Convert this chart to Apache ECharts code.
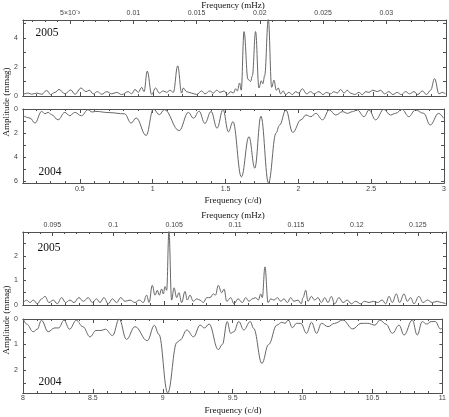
<!DOCTYPE html>
<html><head><meta charset="utf-8">
<script src="https://cdn.jsdelivr.net/npm/echarts@6/dist/echarts.min.js"></script>
<style>html,body{margin:0;padding:0;background:#fff}#c{width:449px;height:417px}</style>
</head><body><div id="c"></div>
<script>
// ---- data: [frequency (c/d), amplitude (mmag)] ----
const a2005 = [[0.112,0.12],[0.146,0.2],[0.169,0.12],[0.204,0.2],[0.238,0.12],[0.272,0.38],[0.299,0.1],[0.329,0.25],[0.356,0.45],[0.397,0.15],[0.436,0.42],[0.465,0.12],[0.506,0.55],[0.54,0.3],[0.563,0.4],[0.59,0.15],[0.618,0.3],[0.648,0.12],[0.682,0.3],[0.716,0.15],[0.75,0.25],[0.784,0.1],[0.829,0.3],[0.852,0.15],[0.875,0.45],[0.898,0.25],[0.921,0.6],[0.937,0.3],[0.959,1.72],[0.989,0.1],[1.016,0.55],[1.041,0.2],[1.068,0.35],[1.092,0.25],[1.114,0.4],[1.137,0.25],[1.167,2.08],[1.194,0.2],[1.205,0.55],[1.228,0.3],[1.262,0.2],[1.296,0.1],[1.331,0.35],[1.353,0.15],[1.387,0.35],[1.41,0.2],[1.433,0.4],[1.456,0.25],[1.483,0.35],[1.506,0.1],[1.529,0.3],[1.547,0.2],[1.563,0.5],[1.574,0.35],[1.59,0.9],[1.601,0.4],[1.62,4.45],[1.647,1.15],[1.665,1.0],[1.677,1.4],[1.699,4.45],[1.722,0.55],[1.738,1.05],[1.749,0.85],[1.761,1.4],[1.786,5.3],[1.809,0.6],[1.825,1.1],[1.84,0.4],[1.854,0.55],[1.87,0.15],[1.888,0.35],[1.904,0.1],[1.927,0.25],[1.95,0.1],[1.973,0.3],[1.995,0.2],[2.018,0.5],[2.048,0.15],[2.075,0.3],[2.098,0.15],[2.132,0.3],[2.159,0.1],[2.184,0.25],[2.212,0.15],[2.234,0.3],[2.257,0.2],[2.28,0.45],[2.303,0.2],[2.325,0.4],[2.348,0.2],[2.376,0.1],[2.405,0.25],[2.428,0.1],[2.451,0.3],[2.473,0.25],[2.501,0.4],[2.53,0.3],[2.553,0.4],[2.58,0.15],[2.61,0.3],[2.637,0.1],[2.667,0.25],[2.694,0.1],[2.724,0.3],[2.751,0.15],[2.781,0.3],[2.808,0.1],[2.838,0.35],[2.867,0.1],[2.895,0.4],[2.922,1.2],[2.952,0.15],[2.974,0.25],[2.997,0.15]];
const a2004 = [[0.112,0.56],[0.158,0.75],[0.192,1.17],[0.238,0.2],[0.26,0.39],[0.283,0.28],[0.306,0.47],[0.351,0.9],[0.397,0.28],[0.431,0.56],[0.465,0.28],[0.511,0.56],[0.556,0.06],[0.585,0.25],[0.61,0.2],[0.7,0.3],[0.807,0.4],[0.852,1.17],[0.887,0.75],[0.955,2.2],[1.005,0.0],[1.046,0.47],[1.08,0.05],[1.182,1.8],[1.245,0.28],[1.28,0.77],[1.319,0.18],[1.358,1.2],[1.401,0.2],[1.442,1.6],[1.483,0.05],[1.52,1.9],[1.551,1.05],[1.609,5.65],[1.661,2.3],[1.701,4.92],[1.743,0.6],[1.795,6.15],[1.847,2.0],[1.87,1.35],[1.915,0.08],[1.961,1.95],[2.018,0.9],[2.052,0.5],[2.086,0.64],[2.12,0.36],[2.166,0.9],[2.212,0.08],[2.257,0.5],[2.303,0.22],[2.337,0.36],[2.371,0.22],[2.405,0.08],[2.451,0.64],[2.485,0.08],[2.53,0.9],[2.587,0.03],[2.632,0.5],[2.667,0.36],[2.712,0.03],[2.758,0.64],[2.803,0.08],[2.86,0.36],[2.905,1.33],[2.963,0.36],[2.997,0.78]];
const b2005 = [[8.002,0.1],[8.026,0.2],[8.05,0.1],[8.073,0.2],[8.102,0.05],[8.132,0.25],[8.156,0.35],[8.184,0.1],[8.215,0.2],[8.243,0.05],[8.274,0.3],[8.302,0.1],[8.333,0.2],[8.362,0.1],[8.397,0.3],[8.428,0.15],[8.463,0.3],[8.492,0.1],[8.522,0.25],[8.546,0.1],[8.574,0.3],[8.605,0.05],[8.634,0.25],[8.664,0.1],[8.693,0.3],[8.723,0.15],[8.759,0.2],[8.794,0.1],[8.825,0.2],[8.853,0.1],[8.877,0.4],[8.894,0.1],[8.917,0.8],[8.936,0.4],[8.953,0.6],[8.967,0.4],[8.983,0.65],[8.995,0.45],[9.007,0.75],[9.019,0.6],[9.035,3.0],[9.054,0.2],[9.071,0.7],[9.09,0.3],[9.106,0.5],[9.125,0.1],[9.149,0.55],[9.165,0.2],[9.184,0.4],[9.208,0.15],[9.232,0.25],[9.255,0.2],[9.279,0.1],[9.303,0.3],[9.326,0.3],[9.35,0.45],[9.365,0.4],[9.385,0.8],[9.409,0.5],[9.426,0.65],[9.445,0.15],[9.473,0.3],[9.496,0.05],[9.525,0.25],[9.556,0.1],[9.579,0.3],[9.603,0.15],[9.626,0.25],[9.65,0.3],[9.669,0.2],[9.686,0.45],[9.697,0.3],[9.716,1.55],[9.738,0.1],[9.757,0.25],[9.78,0.2],[9.804,0.3],[9.828,0.15],[9.851,0.25],[9.875,0.1],[9.898,0.3],[9.922,0.15],[9.95,0.2],[9.974,0.05],[9.986,0.3],[10.005,0.6],[10.021,0.15],[10.045,0.35],[10.069,0.2],[10.092,0.3],[10.116,0.1],[10.14,0.3],[10.163,0.1],[10.187,0.35],[10.21,0.05],[10.241,0.3],[10.27,0.1],[10.3,0.2],[10.329,0.05],[10.359,0.15],[10.395,0.05],[10.423,0.15],[10.454,0.1],[10.485,0.15],[10.513,0.1],[10.548,0.2],[10.572,0.05],[10.596,0.35],[10.619,0.1],[10.648,0.45],[10.671,0.1],[10.702,0.45],[10.726,0.15],[10.749,0.3],[10.773,0.05],[10.808,0.35],[10.837,0.1],[10.868,0.2],[10.903,0.1],[10.939,0.15],[10.967,0.1],[10.998,0.05]];
const b2004 = [[8.002,0.0],[8.026,0.2],[8.073,0.5],[8.102,0.4],[8.132,0.05],[8.18,0.5],[8.227,0.35],[8.255,0.35],[8.293,0.05],[8.333,0.4],[8.381,0.05],[8.428,0.3],[8.48,0.7],[8.522,0.45],[8.558,0.45],[8.589,0.4],[8.641,0.65],[8.688,0.0],[8.74,0.8],[8.801,0.3],[8.889,0.85],[8.94,0.25],[8.972,0.6],[9.035,2.9],[9.101,0.92],[9.125,0.82],[9.172,0.43],[9.22,0.7],[9.267,0.24],[9.298,0.35],[9.331,0.2],[9.397,1.2],[9.426,1.0],[9.461,0.1],[9.485,0.56],[9.508,0.5],[9.544,0.1],[9.579,0.43],[9.626,0.1],[9.65,0.37],[9.709,1.74],[9.757,1.0],[9.816,0.24],[9.851,0.13],[9.875,0.17],[9.898,0.04],[9.927,0.34],[9.957,0.17],[9.988,0.17],[10.028,0.56],[10.064,0.13],[10.1,0.56],[10.135,0.17],[10.182,0.3],[10.229,0.17],[10.288,0.04],[10.359,0.39],[10.418,0.17],[10.466,0.17],[10.518,0.24],[10.553,0.04],[10.596,0.2],[10.643,0.56],[10.69,0.24],[10.726,0.63],[10.785,0.04],[10.82,0.63],[10.856,0.1],[10.887,0.2],[10.92,0.1],[10.95,0.1],[10.986,0.39],[10.998,0.37]];

// ---- tick labels ----
const cdTicksA = [0.5,1,1.5,2,2.5,3];
const mhzTicksA = [0.005,0.01,0.015,0.02,0.025,0.03];
const cdTicksB = [8,8.5,9,9.5,10,10.5,11];
const mhzTicksB = [0.095,0.1,0.105,0.11,0.115,0.12,0.125];
const ampTicksA05 = [0,2,4];
const ampTicksA04 = [0,2,4,6];
const ampTicksB = [0,1,2];

const CD_PER_MHZ = 86.4;
const rangeA = [0.11, 3], rangeB = [8, 11];

function steps(lo, hi, step){ const out=[]; for(let k=Math.ceil(lo/step-1e-9); k*step<=hi+1e-9; k++) out.push(+(k*step).toFixed(6)); return out; }

const C = '#505050';
const LBL = {color:'#444', fontFamily:'Liberation Sans, Arial, sans-serif', fontSize:7};

function xAx(grid, range, pos, ticks, len, labels, fmt, margin){
  return {type:'value', gridIndex:grid, min:range[0], max:range[1], position:pos,
    axisLine:{show:true, onZero:false, lineStyle:{color:C,width:1}},
    axisTick:{show:true, inside:true, length:len, customValues:ticks, lineStyle:{color:C,width:1}},
    axisLabel:labels ? Object.assign({show:true, customValues:labels, formatter:fmt, margin:margin, hideOverlap:false, showMinLabel:true, showMaxLabel:true}, LBL) : {show:false},
    splitLine:{show:false}, minorTick:{show:false}};
}
function yAx(grid, max, inv, pos, interval, labels){
  return {type:'value', gridIndex:grid, min:0, max:max, inverse:inv, interval:interval, position:pos,
    axisLine:{show:true, onZero:false, lineStyle:{color:C,width:1}},
    axisTick:{show:true, inside:true, length:3, lineStyle:{color:C,width:1}},
    axisLabel:labels ? Object.assign({show:true, customValues:labels, margin:5}, LBL) : {show:false},
    splitLine:{show:false}};
}
const fmtCd = v => String(+v.toFixed(3));
const fmtMhz = v => { const m = +(v/CD_PER_MHZ).toFixed(4); return m===0.005 ? '5×10⁻³' : String(m); };

function cdMajor(r){ return steps(r[0], r[1], 0.5); }
function cdMinor(r){ return steps(r[0], r[1], 0.1).filter(v => Math.abs(v/0.5-Math.round(v/0.5))>1e-6); }
function mhzMajor(r){ return steps(r[0]/CD_PER_MHZ, r[1]/CD_PER_MHZ, 0.005).map(m=>m*CD_PER_MHZ); }
function mhzMinor(r){ return steps(r[0]/CD_PER_MHZ, r[1]/CD_PER_MHZ, 0.001).map(m=>m*CD_PER_MHZ); }

const grids = [
  {left:23, right:3, top:20, height:76},
  {left:23, right:3, top:109, height:74},
  {left:23, right:3, top:232, height:73},
  {left:23, right:3, top:319, height:74}
];
const xAxes = [], yAxes = [];
// grid 0: 2005 low freq
xAxes.push(xAx(0, rangeA, 'bottom', cdMajor(rangeA), 4, null));
xAxes.push(xAx(0, rangeA, 'bottom', cdMinor(rangeA), 2, null));
xAxes.push(xAx(0, rangeA, 'top', mhzMajor(rangeA), 4, mhzTicksA.map(m=>m*CD_PER_MHZ), fmtMhz, 3));
xAxes.push(xAx(0, rangeA, 'top', mhzMinor(rangeA), 2, null));
// grid 1: 2004 low freq
xAxes.push(xAx(1, rangeA, 'bottom', cdMajor(rangeA), 4, cdTicksA, fmtCd, 3));
xAxes.push(xAx(1, rangeA, 'bottom', cdMinor(rangeA), 2, null));
xAxes.push(xAx(1, rangeA, 'top', cdMajor(rangeA), 4, null));
xAxes.push(xAx(1, rangeA, 'top', cdMinor(rangeA), 2, null));
// grid 2: 2005 high freq
xAxes.push(xAx(2, rangeB, 'bottom', cdMajor(rangeB), 4, null));
xAxes.push(xAx(2, rangeB, 'bottom', cdMinor(rangeB), 2, null));
xAxes.push(xAx(2, rangeB, 'top', mhzMajor(rangeB), 4, mhzTicksB.map(m=>m*CD_PER_MHZ), fmtMhz, 3));
xAxes.push(xAx(2, rangeB, 'top', mhzMinor(rangeB), 2, null));
// grid 3: 2004 high freq
xAxes.push(xAx(3, rangeB, 'bottom', cdMajor(rangeB), 4, cdTicksB, fmtCd, 2));
xAxes.push(xAx(3, rangeB, 'bottom', cdMinor(rangeB), 2, null));
xAxes.push(xAx(3, rangeB, 'top', cdMajor(rangeB), 4, null));
xAxes.push(xAx(3, rangeB, 'top', cdMinor(rangeB), 2, null));

yAxes.push(yAx(0, 5.25, false, 'left', 1, ampTicksA05));
yAxes.push(yAx(0, 5.25, false, 'right', 1, null));
yAxes.push(yAx(1, 6.15, true, 'left', 1, ampTicksA04));
yAxes.push(yAx(1, 6.15, true, 'right', 1, null));
yAxes.push(yAx(2, 2.97, false, 'left', 0.5, ampTicksB));
yAxes.push(yAx(2, 2.97, false, 'right', 0.5, null));
yAxes.push(yAx(3, 2.9, true, 'left', 0.5, ampTicksB));
yAxes.push(yAx(3, 2.9, true, 'right', 0.5, null));

const seriesData = [a2005, a2004, b2005, b2004];
const series = seriesData.map((d,g)=>({
  type:'line', xAxisIndex:4*g, yAxisIndex:2*g, data:d, showSymbol:false, symbol:'none',
  smooth:0.4, smoothMonotone:'x', clip:true, silent:true,
  lineStyle:{color:'#666', width:1}
}));

const SERIF = 'Liberation Serif, Times New Roman, serif';
function txt(t, x, y, size, rot){
  return {type:'text', x:x, y:y, rotation:rot||0, silent:true,
    style:{text:t, fill:'#111', font:`${size}px ${SERIF}`, textAlign:'center', textVerticalAlign:'middle'}};
}
const graphic = [
  txt('Frequency (mHz)', 233, 6, 9),
  txt('Frequency (c/d)', 233, 201, 9),
  txt('Frequency (mHz)', 233, 216, 9),
  txt('Frequency (c/d)', 233, 411, 9),
  txt('Amplitude (mmag)', 7, 102, 9, Math.PI/2),
  txt('Amplitude (mmag)', 7, 320, 9, Math.PI/2),
  txt('2005', 47, 33, 11.5),
  txt('2004', 50, 172, 11.5),
  txt('2005', 49, 248, 11.5),
  txt('2004', 50, 382, 11.5)
];

const chart = echarts.init(document.getElementById('c'), null, {renderer:'canvas'});
chart.setOption({
  animation:false, backgroundColor:'#fff',
  grid:grids, xAxis:xAxes, yAxis:yAxes, series:series, graphic:graphic
});
</script></body></html>
